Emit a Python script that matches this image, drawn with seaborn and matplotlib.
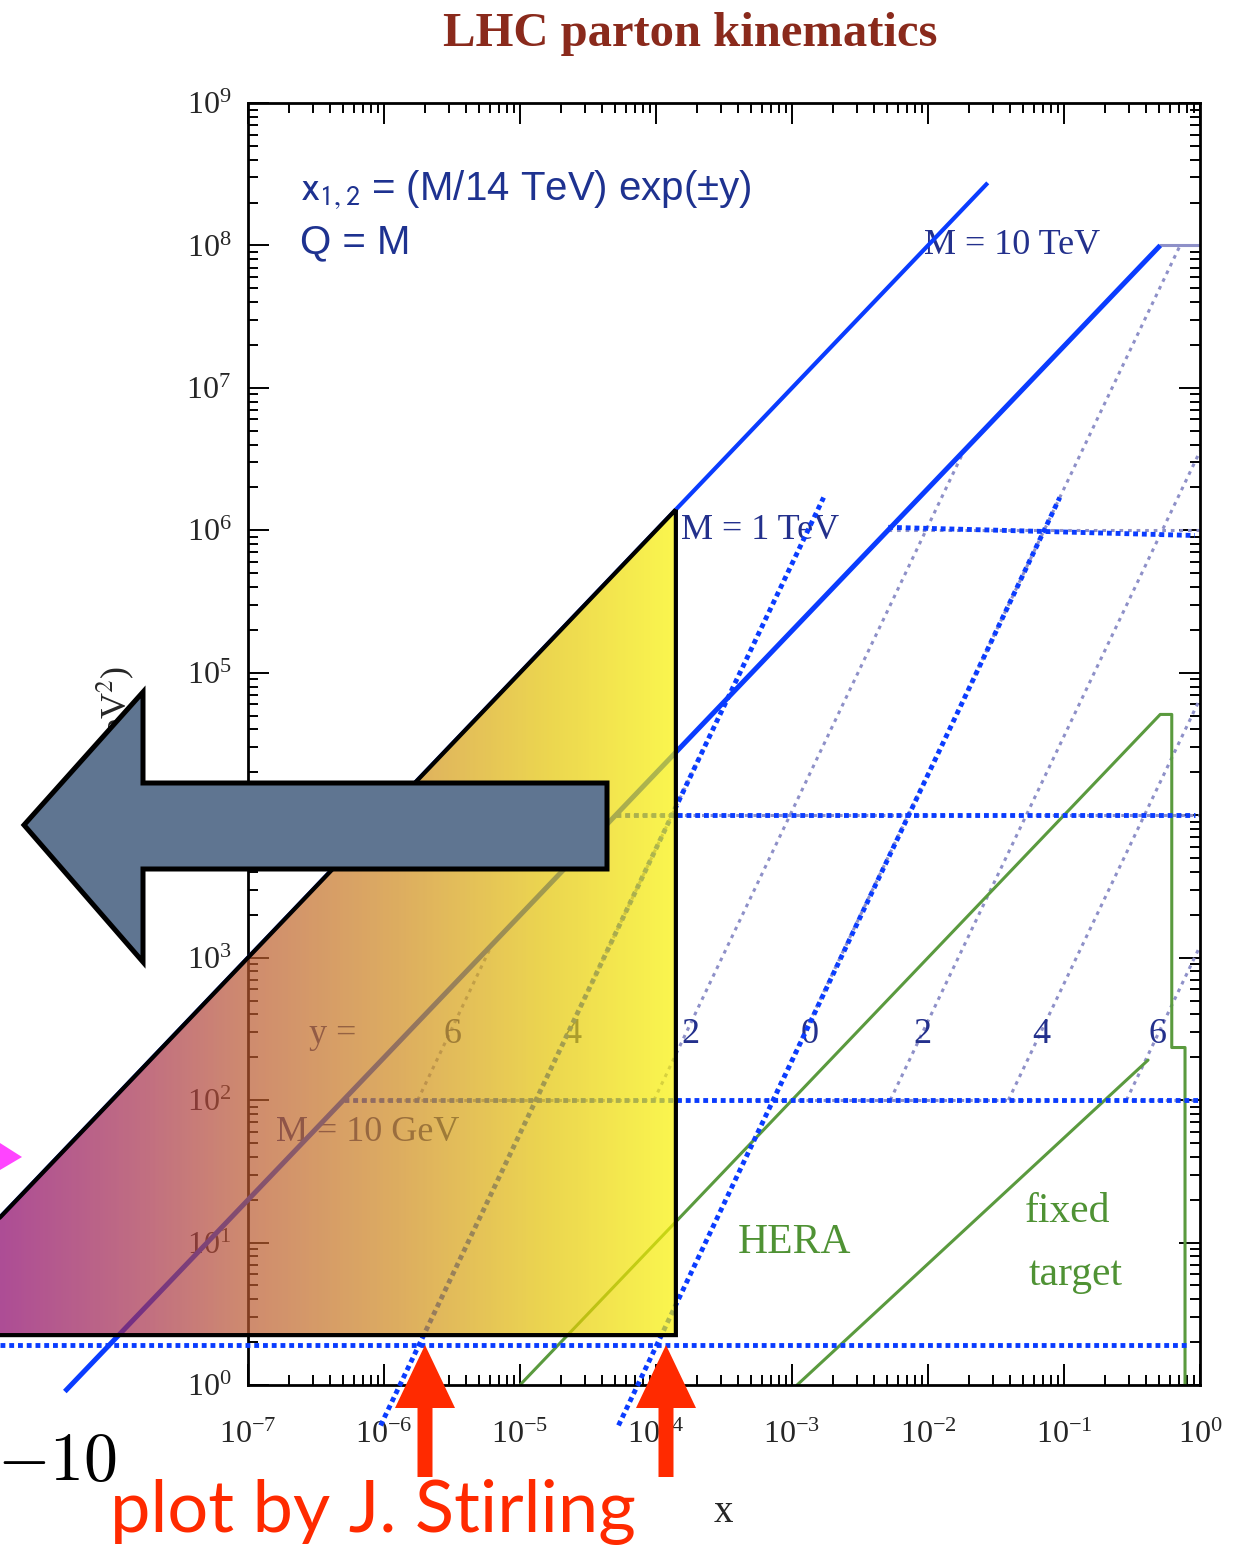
import numpy as np
import pandas as pd
import matplotlib
matplotlib.use("Agg")
import matplotlib.pyplot as plt
import seaborn as sns
from matplotlib.patches import Polygon
from matplotlib.colors import LinearSegmentedColormap
from matplotlib.ticker import LogLocator, NullFormatter

# ------------------------------------------------------------------ data
# lines Q^2 = M^2 (M = 10 GeV, 100 GeV, 1 TeV, 10 TeV), from x = M^2/s to x = 1
mass_q2 = [1e2, 1e4, 1e6, 1e8]
mass_x_min = [5.1e-7, 5.1e-5, 5.1e-3, 0.51]
mass_x_max = [1.0, 1.0, 1.0, 1.0]

# lines of constant rapidity y
rap_values = [-6, -4, -2, 0, 2, 4, 6]
rap_x_start = [1.77e-6, 1.31e-5, 9.67e-5, 7.14e-4, 5.28e-3, 0.039, 0.288]
rap_x_end = [6.14e-6, 3.35e-4, 0.0183, 0.714, 1.0, 1.0, 1.0]
rap_q2_start = [100, 100, 100, 100, 100, 100, 100]
rap_q2_end = [1204, 6.57e4, 3.59e6, 1e8, 3.59e6, 6.57e4, 1204]
rap_labels = ["6", "4", "2", "0", "2", "4", "6"]
rap_label_x = [3.21e-6, 2.41e-5, 1.78e-4, 1.355e-3, 9.04e-3, 0.0678, 0.483]
rap_label_q2 = 287
y_eq_label_x = 4.22e-7

# HERA and fixed-target regions
hera_x = [1e-5, 0.51, 0.62, 0.62, 0.776, 0.776]
hera_q2 = [1.0, 5.1e4, 5.1e4, 234, 234, 1.0]
ft_x = [1.09e-3, 0.415]
ft_q2 = [1.0, 191]

# overlaid solid blue lines
line_a_x = [1.51e-9, 0.0275]
line_a_q2 = [15.1, 2.75e8]
line_b_x = [4.5e-9, 0.51]
line_b_q2 = [0.9, 1.0e8]

# overlaid thick dotted blue lines (steep: y = -4 and y = 0)
steep_x = [[9.44e-7, 1.708e-3], [5.3e-5, 0.0931]]
steep_q2 = [[0.52, 1.7e6], [0.52, 1.7e6]]
# overlaid thick dotted blue horizontals
hor_x = [[1.51e-9, 0.84], [5.1e-7, 1.0], [5.1e-5, 0.918], [5.1e-3, 0.918]]
hor_q2 = [[1.9, 1.9], [100, 100], [1e4, 1e4], [1.05e6, 0.92e6]]

# shaded triangle region: x <= 1.4e-4, Q^2 >= 2.24, Q^2 <= 1e10 x
tri_x = [1.4e-4, 1.4e-4, 2.24e-10]
tri_q2 = [1.4e6, 2.24, 2.24]

x_ticks = [1e-7, 1e-6, 1e-5, 1e-4, 1e-3, 1e-2, 1e-1, 1e0]
y_ticks = [1e0, 1e1, 1e2, 1e3, 1e4, 1e5, 1e6, 1e7, 1e8, 1e9]

# ------------------------------------------------------------------ style
sns.set_style("ticks")
plt.rcParams["font.family"] = ["Liberation Serif", "DejaVu Serif"]
plt.rcParams["mathtext.fontset"] = "stix"

NAVY = "#23308c"
LAV = "#8e90c8"
BLUE = "#0a3cff"
GREEN = "#5a9a3e"
GTEXT = "#4f9234"
DOT = (0, (1.0, 0.8))

W, H = 1242, 1546
fig = plt.figure(figsize=(W / 100, H / 100), dpi=100)
fig.patch.set_facecolor("white")
ax = fig.add_axes([248 / W, 1 - 1385 / H, (1200 - 248) / W, (1385 - 103) / H])
ax.set_xscale("log")
ax.set_yscale("log")

# original kinematic lines (thin lavender dotted)
for q2, x0, x1 in zip(mass_q2, mass_x_min, mass_x_max):
    ls = "-" if q2 == 1e8 else (0, (1.2, 1.6))
    ax.plot([x0, x1], [q2, q2], color=LAV, lw=2.2, ls=ls, zorder=2)

rows = []
for i, yv in enumerate(rap_values):
    rows.append({"x": rap_x_start[i], "Q2": rap_q2_start[i], "line": i})
    rows.append({"x": rap_x_end[i], "Q2": rap_q2_end[i], "line": i})
rap_df = pd.DataFrame(rows)
sns.lineplot(data=rap_df, x="x", y="Q2", units="line", estimator=None, sort=False,
             color=LAV, lw=2.2, linestyle=(0, (1.2, 1.6)), legend=False, ax=ax, zorder=2)

for lab, lx in zip(rap_labels, rap_label_x):
    ax.text(lx, rap_label_q2, lab, color=NAVY, fontsize=26, ha="center", va="center", zorder=3)
ax.text(y_eq_label_x, rap_label_q2, "y =", color=NAVY, fontsize=26, ha="center", va="center", zorder=3)

# HERA / fixed target
sns.lineplot(x=hera_x, y=hera_q2, sort=False, estimator=None, color=GREEN, lw=2.2, ax=ax, zorder=2)
sns.lineplot(x=ft_x, y=ft_q2, sort=False, estimator=None, color=GREEN, lw=2.2, ax=ax, zorder=2)
ax.text(1.05e-3, 10, "HERA", color=GTEXT, fontsize=30, ha="center", va="center", zorder=3)
ax.text(0.107, 16.4, "fixed", color=GTEXT, fontsize=30, ha="center", va="center", zorder=3)
ax.text(0.122, 5.9, "target", color=GTEXT, fontsize=30, ha="center", va="center", zorder=3)

# mass labels
ax.text(0.0417, 1e8, "M = 10 TeV", color=NAVY, fontsize=26, ha="center", va="center", zorder=3)
ax.text(5.8e-4, 1.0e6, "M = 1 TeV", color=NAVY, fontsize=26, ha="center", va="center", zorder=3)
ax.text(7.6e-7, 58.8, "M = 10 GeV", color=NAVY, fontsize=26, ha="center", va="center", zorder=3)

ax.text(2.4e-7, 2.45e8, r"$\mathrm{x}_{1,2}$ = (M/14 TeV) exp(±y)", color="#1e3290",
        fontsize=29, family=["Liberation Sans", "DejaVu Sans"], math_fontfamily="stixsans",
        ha="left", va="center", zorder=3)
ax.text(2.4e-7, 1.05e8, "Q = M", color="#1e3290", fontsize=29,
        family=["Liberation Sans", "DejaVu Sans"], ha="left", va="center", zorder=3)

# overlaid blue lines
ax.plot(line_a_x, line_a_q2, color=BLUE, lw=3.0, solid_capstyle="butt", clip_on=False, zorder=4)
ax.plot(line_b_x, line_b_q2, color=BLUE, lw=3.6, solid_capstyle="butt", clip_on=False, zorder=4)
for xs, qs in zip(steep_x, steep_q2):
    ax.plot(xs, qs, color=BLUE, lw=3.5, ls=DOT, clip_on=False, zorder=5)
for xs, qs in zip(hor_x, hor_q2):
    ax.plot(xs, qs, color=BLUE, lw=3.5, ls=DOT, clip_on=False, zorder=5)

# axes cosmetics
ax.set_xlim(1e-7, 1)
ax.set_ylim(1, 1e9)
ax.set_xticks(x_ticks)
ax.set_yticks(y_ticks)
ax.xaxis.set_minor_locator(LogLocator(base=10, subs=np.arange(2, 10), numticks=100))
ax.yaxis.set_minor_locator(LogLocator(base=10, subs=np.arange(2, 10), numticks=100))
ax.xaxis.set_minor_formatter(NullFormatter())
ax.yaxis.set_minor_formatter(NullFormatter())
ax.tick_params(which="both", direction="in", top=True, right=True, width=1.4, color="black")
ax.tick_params(which="major", length=15)
ax.tick_params(which="minor", length=7)
ax.tick_params(axis="x", which="major", pad=26, labelsize=23)
ax.tick_params(axis="y", which="major", pad=12, labelsize=23)
for sp in ax.spines.values():
    sp.set_linewidth(2.0)
    sp.set_color("black")
ax.set_xlabel("x", fontsize=28)
ax.xaxis.set_label_coords(0.499, -0.107)
ax.xaxis.label.set_va("baseline")
ax.set_ylabel(r"Q$^2$ (GeV$^2$)", fontsize=26)
ax.yaxis.set_label_coords(-0.118, 0.5)

# ------------------------------------------------------------------ overlay (pixel space)
ov = fig.add_axes([0, 0, 1, 1], zorder=10)
ov.patch.set_alpha(0)
ov.axis("off")

disp = ax.transData.transform(np.column_stack([tri_x, tri_q2]))
tri_px = np.column_stack([disp[:, 0], H - disp[:, 1]])
x_right = tri_px[0, 0]
y_top = tri_px[0, 1]
y_bot = tri_px[1, 1]

tri_cmap = LinearSegmentedColormap.from_list(
    "tri", [(0.0, "#8a0068"), (0.22, "#a8324a"), (0.37, "#bb5a30"),
            (0.59, "#cf8a1c"), (0.81, "#e4c404"), (1.0, "#f9f202")])
grad = np.linspace(0, 1, 512).reshape(1, -1)
tri_patch = Polygon(tri_px, closed=True, transform=ov.transData, facecolor="none", edgecolor="none")
ov.add_patch(tri_patch)
im = ov.imshow(grad, cmap=tri_cmap, extent=(0, x_right, y_bot, y_top), aspect="auto",
               alpha=0.7, interpolation="bilinear", zorder=1)
im.set_clip_path(tri_patch)
outline = Polygon(tri_px, closed=True, facecolor="none", edgecolor="black", lw=3.0,
                  joinstyle="miter", zorder=2)
ov.add_patch(outline)

# big grey-blue arrow
big_arrow = [(24, 825), (143, 692), (143, 783), (607, 783), (607, 869), (143, 869), (143, 962)]
ov.add_patch(Polygon(big_arrow, closed=True, facecolor="#5f7591", edgecolor="black", lw=3.6,
                     joinstyle="miter", zorder=3))

# magenta arrow head at the left edge
ov.add_patch(Polygon([(0, 1143), (22, 1157), (0, 1170)], closed=True, facecolor="#ff44ff",
                     edgecolor="none", zorder=3))

# red arrows
for tip_x in (425, 666):
    pts = [(tip_x, 1345), (tip_x + 30, 1408), (tip_x + 7.5, 1408), (tip_x + 7.5, 1477),
           (tip_x - 7.5, 1477), (tip_x - 7.5, 1408), (tip_x - 30, 1408)]
    ov.add_patch(Polygon(pts, closed=True, facecolor="#ff2a00", edgecolor="none", zorder=4))

ov.text(690, 34, "LHC parton kinematics", fontsize=35, fontweight="bold",
        color="#8a2a1c", ha="center", va="center", zorder=5)
ov.text(-3, 1480, r"$-10$", math_fontfamily="cm", fontsize=49, color="black",
        ha="left", va="baseline", zorder=5)
ov.text(110, 1532, "plot by J. Stirling", fontsize=52, family=["Lato", "DejaVu Sans"],
        color="#ff2a00", ha="left", va="baseline", zorder=5)

ov.set_xlim(0, W)
ov.set_ylim(H, 0)

fig.savefig("out.png", dpi=100, facecolor="white")
